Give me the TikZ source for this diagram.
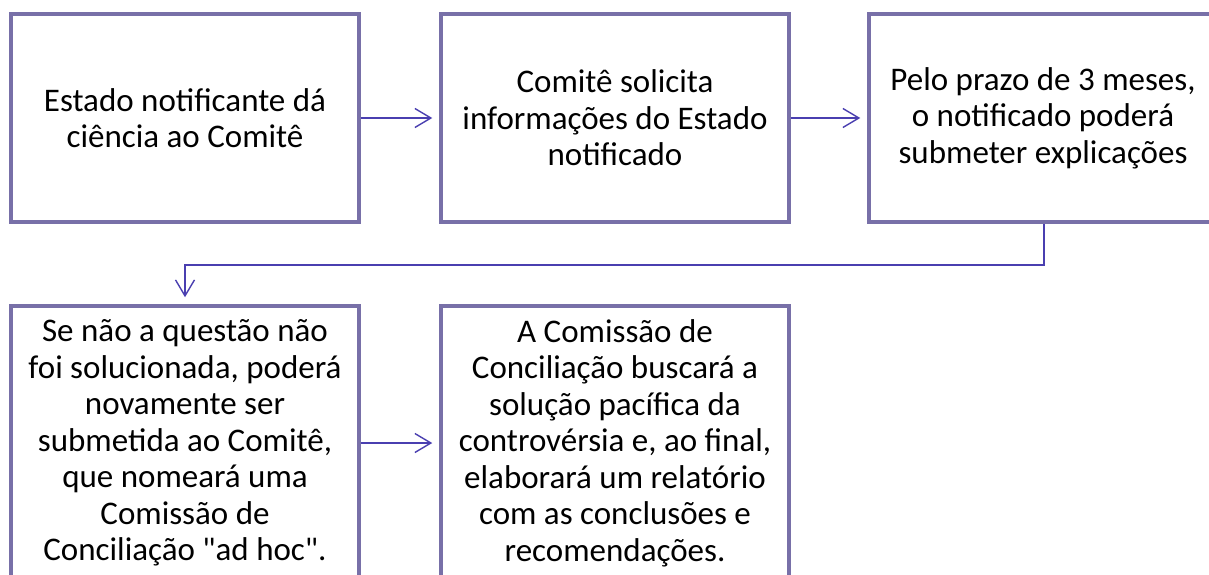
\documentclass[tikz,border=0pt]{standalone}
\usepackage{fontspec}
\setmainfont{Carlito}[Ligatures=TeXOff]
\usetikzlibrary{arrows.meta}
\definecolor{boxborder}{HTML}{7870A8}
\definecolor{arrowcol}{HTML}{4A3FB0}
\tikzset{
  stepbox/.style={draw=boxborder, line width=3.5pt, fill=white, inner sep=0pt,
    align=center, text=black, font=\fontsize{33}{36.5}\selectfont},
  conn/.style={draw=arrowcol, line width=1.4pt,
    -{Straight Barb[length=16pt,width=19pt,line width=1.4pt]}, shorten >=7pt}
}
\begin{document}
\begin{tikzpicture}[x=1pt,y=-1pt]
\useasboundingbox (0,0) rectangle (1209,575);
\clip (0,0) rectangle (1209,575);
\node[stepbox, minimum width=348pt, minimum height=208pt] (b1) at (185,118)
  {Estado notificante dá\\ciência ao Comitê};
\node[stepbox, minimum width=348pt, minimum height=208pt] (b2) at (615,118)
  {Comitê solicita\\informações do Estado\\notificado};
\node[stepbox, minimum width=348pt, minimum height=208pt] (b3) at (1043,118)
  {Pelo prazo de 3 meses,\\o notificado poderá\\submeter explicações};
\node[stepbox, minimum width=348pt, minimum height=274pt] (b4) at (185,443)
  {Se não a questão não\\foi solucionada, poderá\\novamente ser\\submetida ao Comitê,\\que nomeará uma\\Comissão de\\Conciliação "ad hoc".};
\node[stepbox, minimum width=348pt, minimum height=274pt] (b5) at (615,443)
  {A Comissão de\\Conciliação buscará a\\solução pacífica da\\controvérsia e, ao final,\\elaborará um relatório\\com as conclusões e\\recomendações.};
\coordinate (turn) at (1044,265);
\draw[conn] (b1.east) -- (b2.west);
\draw[conn] (b2.east) -- (b3.west);
\draw[conn] (b3.south -| turn) -- (turn) -- (turn -| b4.north) -- (b4.north);
\draw[conn] (b4.east) -- (b5.west);
\end{tikzpicture}
\end{document}
